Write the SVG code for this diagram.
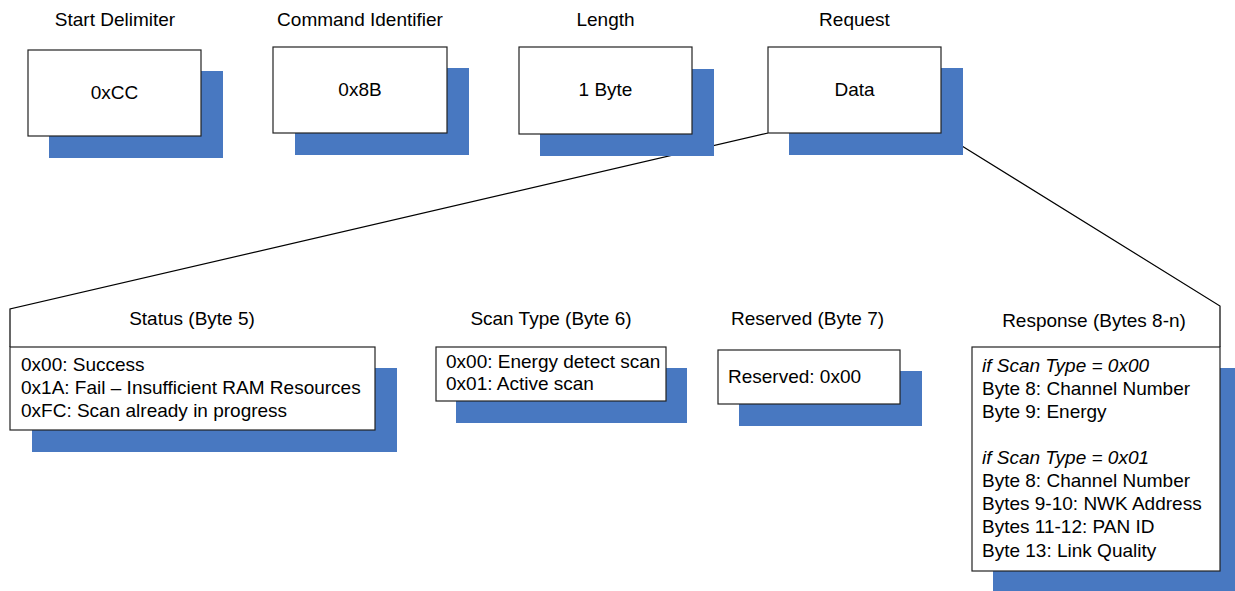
<svg xmlns="http://www.w3.org/2000/svg" width="1235" height="591" viewBox="0 0 1235 591">
<style>
.sh{fill:#4878C1}
.bx{fill:#fff;stroke:#222;stroke-width:1.2}
text{font-family:"Liberation Sans",Arial,sans-serif;font-size:19px;fill:#000}
.c{text-anchor:middle}
.it{font-style:italic}
.ln{fill:none;stroke:#000;stroke-width:1.2}
</style>
<rect width="1235" height="591" fill="#fff"/>
<g id="connectors">
<polyline class="ln" points="768,133 10,309 10,347"/>
<polyline class="ln" points="941,133 1220,306 1220,347"/>
</g>
<g id="start-delimiter">
<text class="c" x="115" y="26">Start Delimiter</text>
<rect class="sh" x="49" y="71" width="174" height="87"/>
<rect class="bx" x="28" y="50" width="173" height="86"/>
<text class="c" x="114.5" y="99">0xCC</text>
</g>
<g id="command-identifier">
<text class="c" x="360" y="26">Command Identifier</text>
<rect class="sh" x="295" y="68" width="174" height="87"/>
<rect class="bx" x="273" y="47" width="174" height="86"/>
<text class="c" x="360" y="96">0x8B</text>
</g>
<g id="length">
<text class="c" x="605.5" y="26">Length</text>
<rect class="sh" x="540" y="69" width="174" height="87"/>
<rect class="bx" x="519" y="47" width="173" height="87"/>
<text class="c" x="605.5" y="96">1 Byte</text>
</g>
<g id="request">
<text class="c" x="854.5" y="26">Request</text>
<rect class="sh" x="789" y="68" width="174" height="87"/>
<rect class="bx" x="768" y="47" width="173" height="86"/>
<text class="c" x="854.5" y="96">Data</text>
</g>
<g id="status">
<text class="c" x="192" y="325">Status (Byte 5)</text>
<rect class="sh" x="32" y="368" width="365" height="84"/>
<rect class="bx" x="10" y="347" width="365" height="83"/>
<text x="21" y="371">0x00: Success</text>
<text x="21" y="394">0x1A: Fail – Insufficient RAM Resources</text>
<text x="21" y="417">0xFC: Scan already in progress</text>
</g>
<g id="scan-type">
<text class="c" x="551" y="325">Scan Type (Byte 6)</text>
<rect class="sh" x="456" y="368" width="231" height="55"/>
<rect class="bx" x="436" y="347" width="230" height="54"/>
<text x="446" y="368">0x00: Energy detect scan</text>
<text x="446" y="390">0x01: Active scan</text>
</g>
<g id="reserved">
<text class="c" x="807.5" y="325">Reserved (Byte 7)</text>
<rect class="sh" x="739" y="371" width="183" height="55"/>
<rect class="bx" x="718" y="350" width="182" height="54"/>
<text x="728" y="383">Reserved: 0x00</text>
</g>
<g id="response">
<text class="c" x="1094" y="327">Response (Bytes 8-n)</text>
<rect class="sh" x="993" y="368" width="248" height="224"/>
<rect class="bx" x="972" y="347" width="248" height="224"/>
<text class="it" x="982" y="372">if Scan Type = 0x00</text>
<text x="982" y="395">Byte 8: Channel Number</text>
<text x="982" y="418">Byte 9: Energy</text>
<text class="it" x="982" y="464">if Scan Type = 0x01</text>
<text x="982" y="487">Byte 8: Channel Number</text>
<text x="982" y="510">Bytes 9-10: NWK Address</text>
<text x="982" y="533">Bytes 11-12: PAN ID</text>
<text x="982" y="557">Byte 13: Link Quality</text>
</g>
</svg>
